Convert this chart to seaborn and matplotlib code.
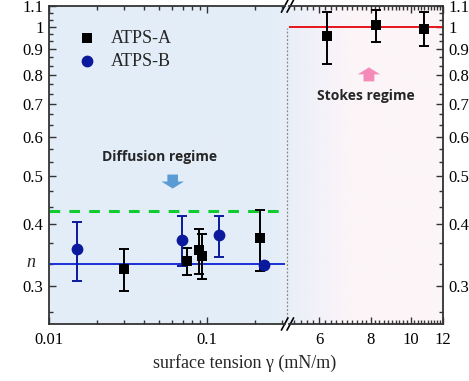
import matplotlib
matplotlib.use("Agg")
import matplotlib.pyplot as plt
import numpy as np
import pandas as pd
import seaborn as sns
from matplotlib.ticker import FixedLocator, NullFormatter, LogLocator, MultipleLocator
from matplotlib.lines import Line2D
from matplotlib.patches import FancyArrow

# data
gamma_a_low = [0.030, 0.075, 0.089, 0.093, 0.216]
n_a_low = [0.325, 0.337, 0.355, 0.346, 0.375]
err_a_low = [0.031, 0.021, 0.037, 0.036, 0.053]

gamma_b = [0.015, 0.0698, 0.1196, 0.2295]
n_b = [0.356, 0.372, 0.380, 0.331]
err_b = [0.049, 0.043, 0.036, 0.005]

gamma_a_high = [6.27, 8.25, 10.8]
n_a_high = [0.957, 1.006, 0.991]
err_a_high = [0.115, 0.076, 0.079]

n_diff_b = 1 / 3
n_diff_a = 0.425
n_stokes = 1.0

y_ticks = [0.3, 0.4, 0.5, 0.6, 0.7, 0.8, 0.9, 1.0, 1.1]
y_tick_labels = ["0.3", "0.4", "0.5", "0.6", "0.7", "0.8", "0.9", "1", "1.1"]

df_a = pd.DataFrame({"gamma": gamma_a_low, "n": n_a_low, "err": err_a_low})
df_b = pd.DataFrame({"gamma": gamma_b, "n": n_b, "err": err_b})
df_h = pd.DataFrame({"gamma": gamma_a_high, "n": n_a_high, "err": err_a_high})

sns.set_theme(style="ticks")
plt.rcParams["font.family"] = ["Liberation Serif", "DejaVu Serif"]

BLACK = "black"
NAVY = "#0b1a9c"
LINE_BLUE = "#1a2fd6"
GREEN = "#10cc30"
RED = "#e8141c"
SPINE = "#333333"

fig = plt.figure(figsize=(4.69, 3.81), dpi=100)

# background gradient (blue -> pink) behind both panels
bg = fig.add_axes([0.1045, 0.1496, 0.8401, 0.8346], zorder=0)
c_blue = np.array([227, 237, 248]) / 255
c_pink = np.array([252, 245, 248]) / 255
xs = np.linspace(0, 1, 400)
t = np.clip((xs - 0.56) / 0.2, 0, 1)
grad = (1 - t)[:, None] * c_blue + t[:, None] * c_pink
bg.imshow(grad[None, :, :], extent=[0, 1, 0, 1], aspect="auto", transform=bg.transAxes)
bg.plot([0.603, 0.603], [0.02, 0.93], ls=(0, (1.5, 1.5)), color="#888888", lw=0.9)
bg.set_xlim(0, 1)
bg.set_ylim(0, 1)
bg.axis("off")

ax1 = fig.add_axes([0.1045, 0.1496, 0.5032, 0.8346], zorder=2)
ax2 = fig.add_axes([0.6162, 0.1496, 0.3284, 0.8346], zorder=2)
for ax in (ax1, ax2):
    ax.set_facecolor("none")
    ax.set_yscale("log")
    ax.set_ylim(0.252, 1.1)
    for s in ax.spines.values():
        s.set_color(SPINE)
        s.set_linewidth(1.3)

ax1.set_xscale("log")
ax1.set_xlim(0.01, 0.3117)
ax2.set_xscale("log")
ax2.set_xlim(5.057, 12)

# reference lines
ax1.axhline(n_diff_a, color=GREEN, lw=2.2, ls=(0, (3.5, 3)), zorder=1)
ax1.axhline(n_diff_b, color=LINE_BLUE, lw=1.4, zorder=1)
ax2.axhline(n_stokes, color=RED, lw=1.4, zorder=1)

# error bars
ax1.errorbar(df_a["gamma"], df_a["n"], yerr=df_a["err"], fmt="none",
             ecolor=BLACK, elinewidth=1.4, capsize=3.5, capthick=1.4, zorder=2)
ax1.errorbar(df_b["gamma"], df_b["n"], yerr=df_b["err"], fmt="none",
             ecolor=NAVY, elinewidth=1.4, capsize=3.5, capthick=1.4, zorder=2)
ax2.errorbar(df_h["gamma"], df_h["n"], yerr=df_h["err"], fmt="none",
             ecolor=BLACK, elinewidth=1.4, capsize=3.5, capthick=1.4, zorder=2)

# markers
sns.scatterplot(data=df_a, x="gamma", y="n", marker="s", color=BLACK, s=60,
                linewidth=0, ax=ax1, zorder=3, label="ATPS-A")
sns.scatterplot(data=df_b, x="gamma", y="n", marker="o", color=NAVY, s=72,
                linewidth=0, ax=ax1, zorder=3, label="ATPS-B")
sns.scatterplot(data=df_h, x="gamma", y="n", marker="s", color=BLACK, s=60,
                linewidth=0, ax=ax2, zorder=3, legend=False)

leg = ax1.legend(loc="upper left", bbox_to_anchor=(0.07, 0.96), frameon=False,
                 fontsize=13, handletextpad=0.7, labelspacing=0.35,
                 handlelength=1.2, borderaxespad=0.2)

# ticks
for ax in (ax1, ax2):
    ax.yaxis.set_major_locator(FixedLocator(y_ticks))
    ax.set_yticklabels(y_tick_labels)
    minors = [v + d for v in [0.2] + y_ticks for d in (0.1 / 3, 0.2 / 3)]
    ax.yaxis.set_minor_locator(FixedLocator(minors))
    ax.yaxis.set_minor_formatter(NullFormatter())
    ax.tick_params(which="both", direction="in", colors=SPINE, labelcolor="black",
                   labelsize=12, top=True, width=1.0)
    ax.tick_params(which="major", length=5)
    ax.tick_params(which="minor", length=3)
    ax.set_xlabel("")
    ax.set_ylabel("")

ax1.xaxis.set_major_locator(FixedLocator([0.01, 0.1]))
ax1.set_xticklabels(["0.01", "0.1"])
ax1.xaxis.set_minor_locator(LogLocator(base=10, subs=np.arange(2, 10)))
ax1.xaxis.set_minor_formatter(NullFormatter())
ax1.tick_params(axis="y", left=True, right=False)
ax1.spines["right"].set_visible(False)

ax2.xaxis.set_major_locator(FixedLocator([6, 8, 10, 12]))
ax2.set_xticklabels(["6", "8", "10", "12"])
ax2.xaxis.set_minor_locator(MultipleLocator(0.2))
ax2.xaxis.set_minor_formatter(NullFormatter())
ax2.yaxis.tick_right()
ax2.tick_params(axis="y", which="both", left=False, right=True, direction="in")
ax2.spines["left"].set_visible(False)

for ax in (ax1, ax2):
    ax.tick_params(axis="x", which="major", pad=6)
    ax.tick_params(axis="y", which="major", pad=4)

# broken-axis marks
for yb in (0.1496, 0.984):
    for dx in (0.0, 0.012):
        fig.add_artist(Line2D([0.600 + dx, 0.614 + dx], [yb - 0.016, yb + 0.016],
                              color="black", lw=1.2))

# annotations
ax1.text(0.0504, 0.547, "Diffusion regime", family=["Open Sans", "DejaVu Sans"],
         fontweight="bold", fontsize=10, ha="center", va="center")
ax1.add_patch(FancyArrow(0.524, 0.470, 0, -0.044, width=0.045, head_width=0.095,
                         head_length=0.022, length_includes_head=True,
                         transform=ax1.transAxes, color="#5b9bd5", lw=0, zorder=3))
ax2.text(7.79, 0.724, "Stokes regime", family=["Open Sans", "DejaVu Sans"],
         fontweight="bold", fontsize=10, ha="center", va="center")
ax2.add_patch(FancyArrow(0.519, 0.763, 0, 0.044, width=0.07, head_width=0.145,
                         head_length=0.022, length_includes_head=True,
                         transform=ax2.transAxes, color="#f58ab8", lw=0, zorder=3))

fig.text(0.066, 0.31, "n", fontstyle="italic", fontsize=13, ha="center", va="center")
fig.text(0.522, 0.047, "surface tension γ (mN/m)", fontsize=13, ha="center", va="center")

fig.savefig("out.png", dpi=100)
